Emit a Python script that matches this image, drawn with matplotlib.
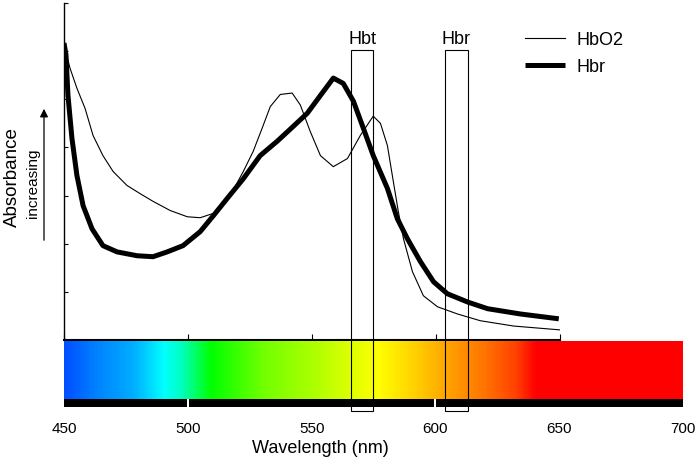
import matplotlib
matplotlib.use('Agg')
import matplotlib.pyplot as plt
import numpy as np
from matplotlib.colors import LinearSegmentedColormap
from matplotlib.patches import Rectangle, FancyArrowPatch
from matplotlib import transforms

plt.rcParams['font.family'] = ['Liberation Sans', 'DejaVu Sans']

# absorbance curves (arbitrary units)
hbo2_nm = [450.0, 450.4, 452.4, 455.2, 458.5, 461.7, 465.7, 469.8, 475.4, 480.7,
           485.9, 492.8, 499.7, 504.9, 510.2, 517.0, 522.3, 526.3, 529.9, 533.2,
           537.2, 542.0, 545.3, 549.3, 553.4, 558.6, 564.3, 569.5, 574.7, 577.6,
           580.4, 582.8, 584.8, 586.9, 590.5, 594.9, 600.6, 608.7, 617.9, 631.3,
           650.0]
hbo2_abs = [6.23, 6.06, 5.65, 5.23, 4.81, 4.25, 3.83, 3.50, 3.21, 3.04,
            2.88, 2.69, 2.56, 2.54, 2.63, 3.00, 3.50, 3.92, 4.40, 4.85,
            5.10, 5.13, 4.88, 4.33, 3.83, 3.60, 3.77, 4.25, 4.65, 4.50,
            4.04, 3.29, 2.67, 2.10, 1.42, 0.92, 0.69, 0.54, 0.40, 0.29,
            0.21]

hbr_nm = [450.0, 450.8, 451.6, 453.2, 455.2, 457.7, 461.3, 465.7, 471.4, 479.5,
          485.9, 491.6, 498.0, 504.9, 510.2, 515.8, 522.3, 529.1, 536.0, 542.5,
          548.1, 553.4, 558.6, 562.6, 566.7, 570.7, 574.7, 580.4, 584.4, 588.5,
          593.7, 599.0, 604.6, 612.7, 620.8, 634.1, 649.5]
hbr_abs = [6.17, 5.92, 5.08, 4.19, 3.42, 2.79, 2.31, 1.96, 1.83, 1.75,
           1.73, 1.83, 1.96, 2.25, 2.58, 2.94, 3.35, 3.83, 4.13, 4.44,
           4.71, 5.08, 5.44, 5.33, 4.96, 4.40, 3.83, 3.15, 2.52, 2.10,
           1.63, 1.21, 0.96, 0.79, 0.65, 0.54, 0.44]

# measurement bands
band_names = ['Hbt', 'Hbr']
band_lo = [566, 604]
band_hi = [575, 613]

# visible spectrum colour stops
spec_nm = [450, 462, 478, 490, 497, 509, 530, 552, 565, 577, 592, 606, 620, 633, 641, 700]
spec_col = ['#0050ff', '#0080ff', '#00b0ff', '#00ffff', '#00ffc0', '#00ff00', '#70ff00',
            '#b0ff00', '#dcff00', '#ffff00', '#ffd000', '#ffa000', '#ff7400', '#ff4000',
            '#ff0000', '#ff0000']
bar_breaks = [500, 600]

W, H = 698, 464
fig = plt.figure(figsize=(W / 100, H / 100), dpi=100)

def fx(px):
    return px / W

def fy(py):
    return 1 - py / H

# upper plot
ax = fig.add_axes([fx(64), fy(341), fx(560) - fx(64), fy(4) - fy(341)])
ax.plot(hbo2_nm, hbo2_abs, color='black', lw=0.8, label='HbO2')
ax.plot(hbr_nm, hbr_abs, color='black', lw=3.6, label='Hbr',
        solid_joinstyle='round', solid_capstyle='butt')
ax.set_xlim(450, 650)
ax.set_ylim(0, 7)
ax.set_xticks([450, 500, 550, 600, 650])
ax.set_yticks(range(8))
ax.set_xticklabels([])
ax.set_yticklabels([])
ax.tick_params(axis='y', direction='in', length=3, width=0.8)
ax.tick_params(axis='x', direction='in', length=4, width=0.8)
ax.spines['top'].set_visible(False)
ax.spines['right'].set_visible(False)
ax.spines['left'].set_linewidth(1.0)
ax.spines['bottom'].set_linewidth(1.5)
ax.patch.set_alpha(0)
ax.legend(loc='upper left', bbox_to_anchor=(fx(525), fy(32)),
          bbox_transform=fig.transFigure, frameon=False, fontsize=13,
          handlelength=2.2, handletextpad=0.65, labelspacing=0.55,
          borderpad=0, borderaxespad=0)

# spectrum strip
axs = fig.add_axes([fx(64), fy(408), fx(683) - fx(64), fy(342) - fy(408)])
cmap = LinearSegmentedColormap.from_list(
    'spec', [((n - 450) / 250, c) for n, c in zip(spec_nm, spec_col)])
grad = np.linspace(450, 700, 600)[None, :]
axs.imshow(grad, cmap=cmap, aspect='auto', extent=(450, 700, 0.12, 1),
           vmin=450, vmax=700)
edges = [450] + bar_breaks + [700]
segs = [(a + (0.4 if a > 450 else 0), b - a - (0.4 if a > 450 else 0) - (0.4 if b < 700 else 0))
        for a, b in zip(edges[:-1], edges[1:])]
axs.broken_barh(segs, (0, 0.12), facecolor='black')
axs.set_xlim(450, 700)
axs.set_ylim(0, 1)
axs.set_xticks([450, 500, 550, 600, 650, 700])
axs.set_yticks([])
axs.tick_params(axis='x', length=0, pad=10, labelsize=11)
for s in axs.spines.values():
    s.set_visible(False)

# band boxes spanning both panels
tr = transforms.blended_transform_factory(axs.transData, fig.transFigure)
for name, lo, hi in zip(band_names, band_lo, band_hi):
    fig.add_artist(Rectangle((lo, fy(412)), hi - lo, fy(51) - fy(412), transform=tr,
                             fill=False, edgecolor='black', lw=0.8, zorder=5))
    fig.text((lo + hi) / 2, fy(44), name, transform=tr, ha='center', va='baseline',
             fontsize=13)

# axis labels
fig.text(fx(320), fy(449), 'Wavelength (nm)', ha='center', va='center', fontsize=13)
fig.text(fx(12), fy(177), 'Absorbance', rotation=90, ha='center', va='center', fontsize=13.5)
fig.text(fx(33), fy(183), 'increasing', rotation=90, ha='center', va='center', fontsize=11)
fig.add_artist(FancyArrowPatch((fx(44), fy(244)), (fx(44), fy(107)),
                               transform=fig.transFigure, arrowstyle='-|>',
                               mutation_scale=12, lw=0.9, color='black'))

fig.savefig('out.png', dpi=100)
